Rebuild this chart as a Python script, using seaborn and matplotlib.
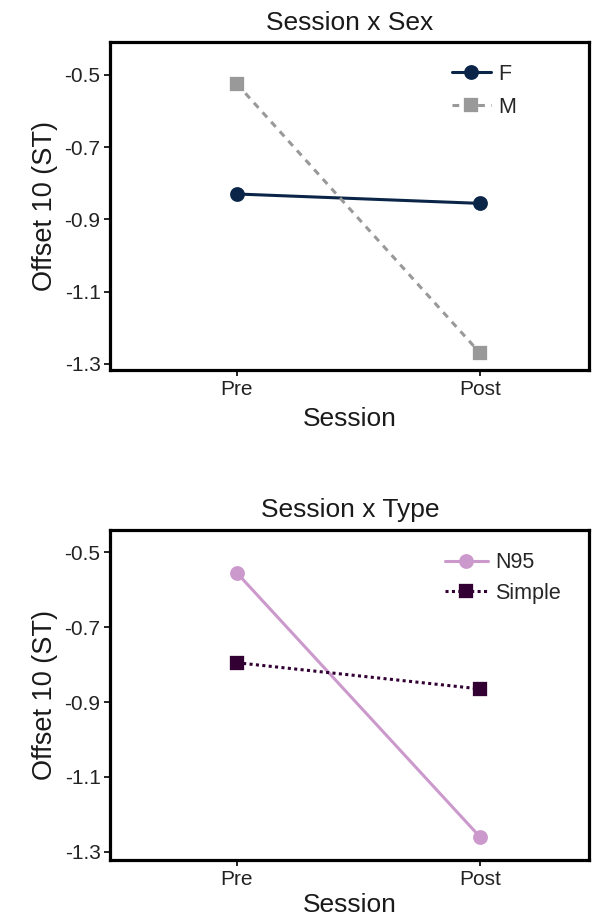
import pandas as pd
import matplotlib
matplotlib.use("Agg")
import matplotlib.pyplot as plt
import seaborn as sns

# Values
SESSIONS = ["Pre", "Post"]

SEX_LEVELS = ["F", "M"]
F_VALUES = [-0.830, -0.856]
M_VALUES = [-0.525, -1.270]

TYPE_LEVELS = ["N95", "Simple"]
N95_VALUES = [-0.555, -1.260]
SIMPLE_VALUES = [-0.795, -0.865]

Y_TICKS = [-0.5, -0.7, -0.9, -1.1, -1.3]

sns.set_style("white")
plt.rcParams["font.family"] = ["Liberation Sans", "DejaVu Sans"]


def long_table(levels, series, col):
    rows = []
    for level, vals in zip(levels, series):
        for s, v in zip(SESSIONS, vals):
            rows.append({"Session": s, col: level, "value": v})
    return pd.DataFrame(rows)


sex_df = long_table(SEX_LEVELS, [F_VALUES, M_VALUES], "Sex")
type_df = long_table(TYPE_LEVELS, [N95_VALUES, SIMPLE_VALUES], "Type")

fig = plt.figure(figsize=(5.93, 9.18), dpi=100)
ax1 = fig.add_axes([0.186, 0.597, 0.808, 0.357])
ax2 = fig.add_axes([0.186, 0.063, 0.808, 0.360])

panels = [
    (ax1, sex_df, "Sex", SEX_LEVELS, ["#0a2548", "#999999"], ["o", "s"],
     ["-", (0, (2.2, 2.0))], "Session x Sex", (-1.317, -0.41), (0.695, 0.852),
     1.8, 0.55, 6),
    (ax2, type_df, "Type", TYPE_LEVELS, ["#cc99cc", "#330033"], ["o", "s"],
     ["-", (0, (1, 1.1))], "Session x Type", (-1.322, -0.44), (0.68, 0.854),
     2.0, 0.45, 3),
]

for (ax, df, hue, levels, colors, markers, styles, title, ylim, leg_pos,
     hlen, lspace, xpad) in panels:
    sns.pointplot(
        data=df, x="Session", y="value", hue=hue, order=SESSIONS,
        hue_order=levels, palette=colors, markers=markers,
        linestyles=styles, errorbar=None, ax=ax,
        markersize=9, linewidth=2.2,
    )
    ax.set_xlim(-0.52, 1.45)
    ax.set_ylim(*ylim)
    ax.set_yticks(Y_TICKS)
    ax.set_yticklabels([f"{t:.1f}" for t in Y_TICKS])
    ax.set_title(title, fontsize=19, pad=9, color="#1a1a1a")
    ax.set_xlabel("Session", fontsize=19, labelpad=xpad, color="#1a1a1a")
    ax.set_ylabel("Offset 10 (ST)", fontsize=19.5, labelpad=5, color="#1a1a1a")
    ax.tick_params(axis="both", labelsize=15, length=4, width=1.2,
                   direction="out", left=True, bottom=True, colors="black",
                   labelcolor="#222222", pad=3)
    for sp in ax.spines.values():
        sp.set_linewidth(2.3)
        sp.set_color("black")
    handles, labels = ax.get_legend_handles_labels()
    ax.legend(handles, labels, loc="center left", frameon=False,
              fontsize=15.5, bbox_to_anchor=leg_pos,
              handlelength=hlen, handletextpad=0.35, labelspacing=lspace,
              borderaxespad=0)

fig.savefig("out.png", dpi=100)
